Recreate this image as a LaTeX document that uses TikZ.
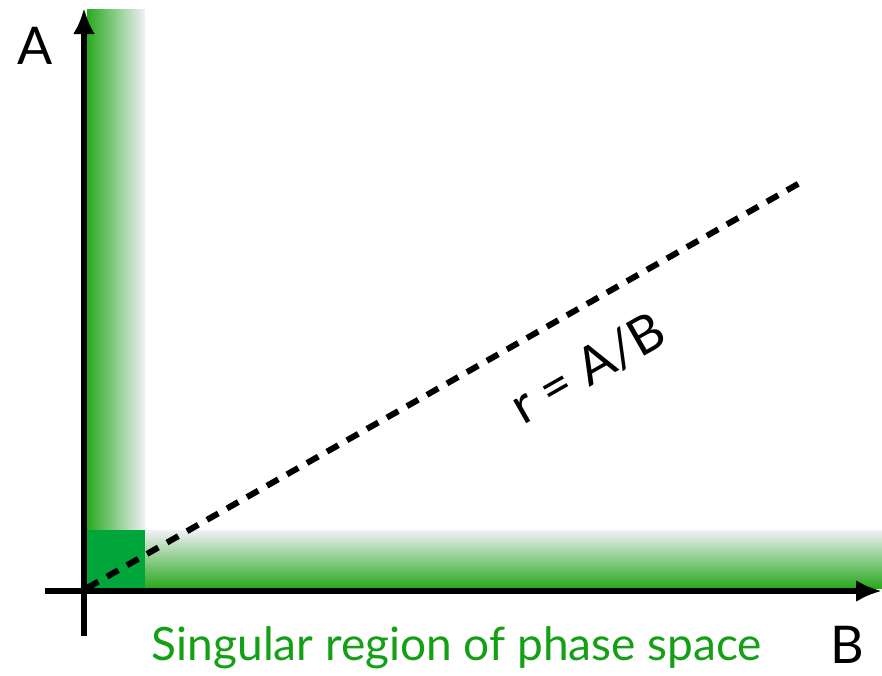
\documentclass[tikz,border=0pt]{standalone}
\usepackage{fontspec}
\setmainfont{Lato}
\definecolor{gband}{RGB}{40,170,30}
\definecolor{gfade}{RGB}{240,240,246}
\definecolor{gsolid}{RGB}{0,166,58}
\definecolor{gtext}{RGB}{20,160,20}
\begin{document}
\begin{tikzpicture}[x=1pt,y=-1pt,
  axis/.style={line width=6.5pt,-{Latex[length=26pt,width=22pt]}},
  lbl/.style={font=\fontsize{46}{54}\selectfont,inner sep=0pt},
  big/.style={font=\fontsize{52}{60}\selectfont,inner sep=0pt}]
\usetikzlibrary{arrows.meta}
\useasboundingbox (0,0) rectangle (882,675);
% bands
\shade[left color=gband,right color=gfade] (87,9) rectangle (145,530);
\shade[bottom color=gband,top color=gfade] (145,530) rectangle (882,588);
\fill[gsolid] (87,530) rectangle (145,588);
% axes
\coordinate (vb) at (84,636);
\coordinate (vt) at (84,8);
\coordinate (hl) at (45,591);
\coordinate (hr) at (882,591);
\draw[axis] (vb) -- (vt);
\draw[axis] (hl) -- (hr);
% dashed ratio line
\coordinate (o) at (87,588);
\coordinate (e) at (805,180);
\draw[line width=6pt,dash pattern=on 13pt off 10pt] (o) -- (e);
\node[big,rotate=29.6] (r) at (588,368) {r = A/B};
\node[big] (A) at (35,46) {A};
\node[big] (B) at (847,645) {B};
\node[lbl,text=gtext] (s) at (457,648) {Singular region of phase space};
\end{tikzpicture}
\end{document}
